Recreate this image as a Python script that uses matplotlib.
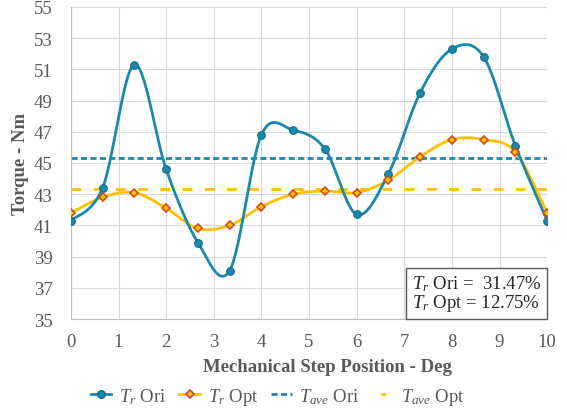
import numpy as np
import matplotlib
matplotlib.use("Agg")
import matplotlib.pyplot as plt
from matplotlib.lines import Line2D
from matplotlib.offsetbox import AnchoredText

plt.rcParams['font.family'] = ['Liberation Serif', 'DejaVu Serif']
plt.rcParams['mathtext.fontset'] = 'custom'
plt.rcParams['mathtext.rm'] = 'Liberation Serif'
plt.rcParams['mathtext.it'] = 'Liberation Serif:italic'

# step positions (deg) and torque readings (Nm)
position = [0, 2/3, 4/3, 2, 8/3, 10/3, 4, 14/3, 16/3, 6, 20/3, 22/3, 8, 26/3, 28/3, 10]
torque_ori = [41.3, 43.4, 51.3, 44.6, 39.9, 38.1, 46.8, 47.1, 45.9, 41.7,
              44.3, 49.5, 52.3, 51.8, 46.1, 41.3]
torque_opt = [41.8, 42.8, 43.1, 42.1, 40.8, 41.0, 42.2, 43.0, 43.2, 43.1,
              43.9, 45.4, 46.5, 46.5, 45.7, 41.8]
ave_ori = 45.3
ave_opt = 43.3
ripple_ori = 31.47
ripple_opt = 12.75

TEAL = '#1A89AB'
TEAL_DARK = '#0F6E8C'
GOLD = '#FFC000'
RUST = '#C9501C'
GREY = '#595959'


def smooth(x, y, n=30):
    # Bezier smoothing through every point (spreadsheet-style smoothed line)
    pts = np.column_stack([np.asarray(x, float), np.asarray(y, float)])
    out = []
    for i in range(len(pts) - 1):
        p0 = pts[max(i - 1, 0)]
        p1 = pts[i]
        p2 = pts[i + 1]
        p3 = pts[min(i + 2, len(pts) - 1)]
        c1 = p1 + (p2 - p0) / 6
        c2 = p2 - (p3 - p1) / 6
        t = np.linspace(0, 1, n)[:, None]
        seg = ((1 - t) ** 3 * p1 + 3 * (1 - t) ** 2 * t * c1
               + 3 * (1 - t) * t ** 2 * c2 + t ** 3 * p2)
        out.append(seg if i == 0 else seg[1:])
    seg = np.vstack(out)
    return seg[:, 0], seg[:, 1]


fig = plt.figure(figsize=(5.67, 4.14), dpi=100)
ax = fig.add_axes([0.125, 0.227, 0.84, 0.754])

xs, ys = smooth(position, torque_ori)
ax.plot(xs, ys, color=TEAL, lw=2.0, zorder=4)
ax.plot(position, torque_ori, 'o', ms=5.5, mfc=TEAL, mec=TEAL_DARK, mew=0.8, zorder=5)
xs, ys = smooth(position, torque_opt)
ax.plot(xs, ys, color=GOLD, lw=2.0, zorder=3)
ax.plot(position, torque_opt, 'D', ms=4.2, mfc=GOLD, mec=RUST, mew=1.2, zorder=5)

ax.axhline(ave_ori, color=TEAL, lw=2.0, ls=(0, (2.2, 1.2)), zorder=2)
ax.axhline(ave_opt, color=GOLD, lw=2.0, ls=(0, (3.5, 4.5)), zorder=2)

ax.set_xlim(0, 10)
ax.set_ylim(35, 55)
ax.set_xticks(range(0, 11))
ax.set_yticks(range(35, 56, 2))
ax.grid(True, color='#D9D9D9', lw=0.8, zorder=0)
ax.set_axisbelow(True)
for s in ['top', 'right']:
    ax.spines[s].set_visible(False)
for s in ['left', 'bottom']:
    ax.spines[s].set_color('#BFBFBF')
ax.tick_params(length=0, labelsize=13.5, colors=GREY)
ax.tick_params(axis='y', pad=13)
ax.tick_params(axis='x', pad=10)

ax.set_xlabel('Mechanical Step Position - Deg', fontsize=13.5, fontweight='bold',
              color=GREY, labelpad=5)
ax.xaxis.set_label_coords(0.538, -0.125)
ax.set_ylabel('Torque - Nm', fontsize=13.5, fontweight='bold', color=GREY, labelpad=4)

box = AnchoredText(f'$T_r$ Ori =  {ripple_ori:.2f}%\n$T_r$ Opt = {ripple_opt:.2f}%',
                   loc='lower right', borderpad=0, pad=0.3,
                   prop=dict(fontsize=13.5, color='#262626', linespacing=0.95))
box.patch.set_edgecolor('#595959')
box.patch.set_linewidth(1.0)
box.patch.set_boxstyle('square,pad=0')
box.set_zorder(6)
ax.add_artist(box)

handles = [
    Line2D([], [], color=TEAL, lw=2.0, marker='o', ms=5.5, mfc=TEAL, mec=TEAL_DARK),
    Line2D([], [], color=GOLD, lw=2.0, marker='D', ms=4.2, mfc=GOLD, mec=RUST, mew=1.2),
    Line2D([], [], color=TEAL, lw=2.0, ls=(0, (2.2, 1.2))),
    Line2D([], [], color=GOLD, lw=2.0, ls=(1.9, (1.8, 2.9))),
]
labels = ['$T_r$ Ori', '$T_r$ Opt', '$T_{ave}$ Ori', '$T_{ave}$ Opt']
fig.legend(handles, labels, loc='center', bbox_to_anchor=(0.49, 0.04), ncol=4,
           frameon=False, fontsize=13.5, handlelength=1.1, columnspacing=0.7,
           handletextpad=0.4, labelcolor=GREY)

fig.savefig('out.png', dpi=100)
